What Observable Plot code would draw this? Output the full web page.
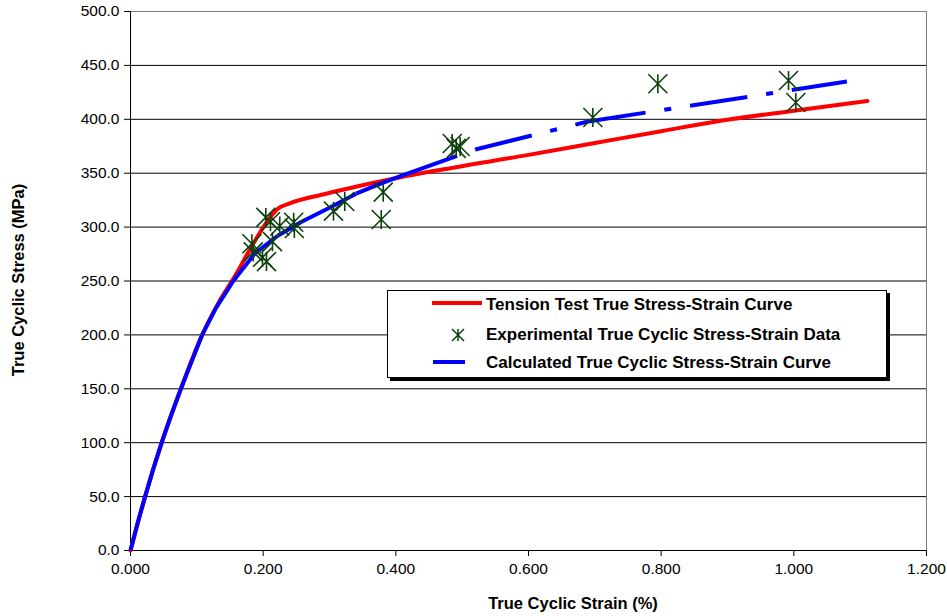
<!DOCTYPE html>
<html>
<head>
<meta charset="utf-8">
<script src="https://cdn.jsdelivr.net/npm/d3@7"></script>
<script src="https://cdn.jsdelivr.net/npm/@observablehq/plot@0.6"></script>
<style>
  body { margin: 0; background: #fff; }
  #wrap { position: relative; width: 947px; height: 616px; font-family: "Liberation Sans", Arial, sans-serif; }
  .ttl { position: absolute; font-weight: bold; font-size: 16.5px; color: #000; white-space: nowrap; }
  #xt { left: 573px; top: 603px; transform: translate(-50%, -50%); }
  #yt { left: 18px; top: 280px; transform: translate(-50%, -50%) rotate(-90deg); }
  #legend { position: absolute; left: 386px; top: 289px; }
</style>
</head>
<body>
<div id="wrap"></div>
<script>
// ---------- data ----------
const xTicks = [0, 0.2, 0.4, 0.6, 0.8, 1.0, 1.2];
const yTicks = [0, 50, 100, 150, 200, 250, 300, 350, 400, 450, 500];
const xTitle = "True Cyclic Strain (%)";
const yTitle = "True Cyclic Stress (MPa)";
const seriesNames = [
  "Tension Test True Stress-Strain Curve",
  "Experimental True Cyclic Stress-Strain Data",
  "Calculated True Cyclic Stress-Strain Curve"
];

// Tension test true stress-strain curve
const tensionStrain = [0, 0.022, 0.047, 0.076, 0.108, 0.132, 0.158, 0.177, 0.207, 0.222, 0.24, 0.288, 0.315, 0.405, 0.466, 0.6, 0.7, 0.8, 0.883, 1.0, 1.111];
const tensionStress = [0, 50, 100, 150, 200, 229, 255, 276, 306, 317, 322, 330, 334, 346, 353, 367, 378, 389, 398, 408, 417];

// Experimental true cyclic stress-strain data
const expStrain = [0.183, 0.185, 0.199, 0.205, 0.214, 0.204, 0.211, 0.225, 0.246, 0.247, 0.306, 0.323, 0.381, 0.378, 0.485, 0.491, 0.497, 0.697, 0.795, 0.992, 1.003];
const expStress = [284.5, 277, 272, 268, 286.5, 309, 305, 301, 304.5, 298.7, 314.8, 323.7, 332.4, 307, 377.6, 373, 374.8, 401.7, 433, 436, 415.6];

// Calculated true cyclic stress-strain curve
const calcStrain = [0, 0.0105, 0.022, 0.034, 0.047, 0.061, 0.076, 0.092, 0.108, 0.129, 0.155, 0.188, 0.222, 0.258, 0.3, 0.34, 0.38, 0.41, 0.52, 0.69, 1.08];
const calcStress = [0, 25, 50, 75, 100, 125, 150, 175, 200, 225, 250, 276, 292, 305, 318, 331, 341, 348, 372, 398, 435];

// ---------- build tables ----------
const tension = tensionStrain.map((x, i) => ({x, y: tensionStress[i]}));
const exp = expStrain.map((x, i) => ({x, y: expStress[i]}));
// Each pair of consecutive calculated points is its own segment (dash pattern restarts per segment, as in Excel)
const calcSegs = [];
for (let i = 0; i < calcStrain.length - 1; i++) {
  calcSegs.push({x: calcStrain[i], y: calcStress[i], seg: i});
  calcSegs.push({x: calcStrain[i + 1], y: calcStress[i + 1], seg: i});
}

const starSymbol = {
  draw(ctx, size) {
    const h = Math.sqrt(size / Math.PI);
    ctx.moveTo(0, -h); ctx.lineTo(0, h);
    ctx.moveTo(-h, -h); ctx.lineTo(h, h);
    ctx.moveTo(-h, h); ctx.lineTo(h, -h);
  }
};

const starColor = "#0d400d";

const chart = Plot.plot({
  width: 947,
  height: 616,
  marginLeft: 130,
  marginRight: 21,
  marginTop: 11,
  marginBottom: 66,
  style: {fontFamily: '"Liberation Sans", Arial, sans-serif', fontSize: "15px", color: "#000", background: "#fff"},
  x: {domain: [0, 1.2]},
  y: {domain: [0, 500]},
  marks: [
    Plot.frame({stroke: "#808080"}),
    Plot.ruleY(yTicks.filter(d => d > 0 && d < 500), {stroke: "#000", strokeWidth: 1}),
    Plot.ruleX([0], {stroke: "#000"}),
    Plot.ruleY([0], {stroke: "#000"}),
    Plot.axisY({ticks: yTicks, tickFormat: d => d.toFixed(1), tickSize: 6, tickPadding: 5, label: null, fontSize: 15.5, stroke: "#000"}),
    Plot.axisX({ticks: xTicks, tickFormat: d => d.toFixed(3), tickSize: 6, tickPadding: 6, label: null, fontSize: 15.5, stroke: "#000"}),
    Plot.line(tension, {x: "x", y: "y", stroke: "#ff0000", strokeWidth: 4, curve: "monotone-x"}),
    Plot.line(calcSegs, {x: "x", y: "y", z: "seg", stroke: "#0000ff", strokeWidth: 4, strokeDasharray: "58,19,7,19", strokeLinecap: "butt", strokeLinejoin: "miter"}),
    Plot.dot(exp, {x: "x", y: "y", symbol: starSymbol, r: 9.5, fill: "none", stroke: starColor, strokeWidth: 1.6})
  ]
});

const wrap = document.getElementById("wrap");
wrap.appendChild(chart);

const xt = document.createElement("div");
xt.className = "ttl"; xt.id = "xt"; xt.textContent = xTitle;
wrap.appendChild(xt);
const yt = document.createElement("div");
yt.className = "ttl"; yt.id = "yt"; yt.textContent = yTitle;
wrap.appendChild(yt);

// ---------- legend ----------
const ns = "http://www.w3.org/2000/svg";
const lg = document.createElementNS(ns, "svg");
lg.setAttribute("id", "legend");
lg.setAttribute("width", 505);
lg.setAttribute("height", 94);
const mk = (tag, attrs) => { const e = document.createElementNS(ns, tag); for (const k in attrs) e.setAttribute(k, attrs[k]); lg.appendChild(e); return e; };
mk("rect", {x: 4, y: 4, width: 500, height: 88, fill: "#000"});
mk("rect", {x: 1.5, y: 1.5, width: 499, height: 87, fill: "#fff", stroke: "#000", "stroke-width": 1});
mk("line", {x1: 46, x2: 96, y1: 14, y2: 14, stroke: "#ff0000", "stroke-width": 4});
const sh = 6;
mk("path", {d: `M72,${46 - sh}L72,${46 + sh}M${72 - sh},${46 - sh}L${72 + sh},${46 + sh}M${72 - sh},${46 + sh}L${72 + sh},${46 - sh}`, stroke: starColor, "stroke-width": 1.5, fill: "none"});
mk("line", {x1: 47, x2: 79, y1: 73, y2: 73, stroke: "#0000ff", "stroke-width": 4});
const ys = [15, 45, 73];
seriesNames.forEach((t, i) => {
  const tx = mk("text", {x: 100, y: ys[i], "dominant-baseline": "central", "font-family": '"Liberation Sans", Arial, sans-serif', "font-weight": "bold", "font-size": "17px", fill: "#000"});
  tx.textContent = t;
});
wrap.appendChild(lg);
</script>
</body>
</html>
